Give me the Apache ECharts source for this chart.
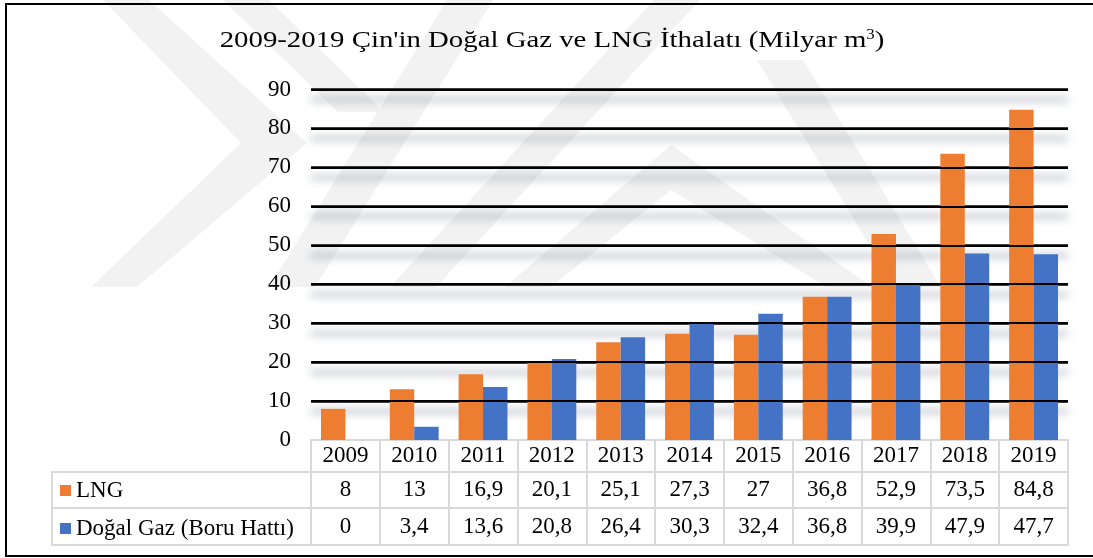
<!DOCTYPE html>
<html>
<head>
<meta charset="utf-8">
<script src="https://cdn.jsdelivr.net/npm/echarts@6/dist/echarts.min.js"></script>
<style>
  html, body { margin: 0; padding: 0; background: #fff; }
  #chart { width: 1093px; height: 558px; }
</style>
</head>
<body>
<div id="chart"></div>
<script>
// data
const years = ["2009", "2010", "2011", "2012", "2013", "2014", "2015", "2016", "2017", "2018", "2019"];
const lng = [8, 13, 16.9, 20.1, 25.1, 27.3, 27, 36.8, 52.9, 73.5, 84.8];
const pipeline = [0, 3.4, 13.6, 20.8, 26.4, 30.3, 32.4, 36.8, 39.9, 47.9, 47.7];
const seriesNames = ["LNG", "Doğal Gaz (Boru Hattı)"];
const titleMain = "2009-2019 Çin'in Doğal Gaz ve LNG İthalatı (Milyar m";

const FONT = "'Liberation Serif', 'Times New Roman', serif";
const GRID_LINE = "#d9d9d9";
const ORANGE = "#ed7d31";
const BLUE = "#4472c4";
const FS = 23;

// turkish decimal comma
function fmt(v) {
	return String(v).replace(".", ",");
}

// table row made from an extra x axis pushed down by offset
function tableAxis(offset, tickLen, margin, values) {
	return {
		type: "category",
		data: years,
		position: "bottom",
		offset: offset,
		axisLine: { show: true, onZero: false, lineStyle: { color: GRID_LINE, width: 2 } },
		axisTick: { show: tickLen > 0, interval: 0, length: tickLen, lineStyle: { color: GRID_LINE, width: 2 } },
		axisLabel: {
			show: !!values,
			interval: 0,
			margin: margin,
			color: "#000",
			fontFamily: FONT,
			fontSize: FS,
			lineHeight: 22,
			formatter: (v, i) => (values ? values[i] : v),
		},
		splitLine: { show: false },
	};
}

const valueAxisBase = {
	type: "value",
	min: 0,
	max: 90,
	interval: 10,
	axisLine: { show: false },
	axisTick: { show: false },
};

// faint watermark stripes in the background
const wm = "#f2f2f2";
const watermark = [
	[[103, 0], [149, 0], [307, 143], [137, 287], [91, 287], [241, 143]],
	[[223, 0], [269, 0], [384, 112], [338, 112]],
	[[447, 0], [493, 0], [315, 287], [269, 287]],
	[[654, 0], [700, 0], [436, 287], [390, 287]],
	[[505, 287], [671, 145], [872, 287], [826, 287], [671, 190], [551, 287]],
	[[757, 60], [803, 60], [941, 287], [895, 287]],
].map((pts) => ({
	type: "polygon",
	z: -10,
	silent: true,
	shape: { points: pts },
	style: { fill: wm },
}));

const chart = echarts.init(document.getElementById("chart"));
chart.setOption({
	animation: false,
	textStyle: { fontFamily: FONT },
	grid: { left: 311, right: 25, top: 89.5, bottom: 118, containLabel: false },
	legend: {
		orient: "vertical",
		left: 60,
		top: 479,
		padding: 0,
		itemWidth: 11,
		itemHeight: 11,
		itemGap: 15,
		icon: "rect",
		selectedMode: false,
		textStyle: { color: "#000", fontFamily: FONT, fontSize: FS, lineHeight: 22 },
		data: seriesNames,
	},
	xAxis: [
		tableAxis(0, 32, 5, years),
		tableAxis(32, 36, 7, lng.map(fmt)),
		tableAxis(68, 37, 8, pipeline.map(fmt)),
		tableAxis(105, 0, 0, null),
	],
	yAxis: [
		Object.assign({}, valueAxisBase, {
			axisLabel: { color: "#000", fontFamily: FONT, fontSize: FS, margin: 20 },
			splitLine: {
				show: true,
				showMinLine: false,
				lineStyle: {
					color: "#000",
					width: 2.5,
					shadowColor: "rgba(105,115,135,0.8)",
					shadowBlur: 9,
					shadowOffsetY: 10,
				},
			},
		}),
		// black lines again above the bars
		Object.assign({}, valueAxisBase, {
			z: 3,
			axisLabel: { show: false },
			splitLine: { show: true, showMinLine: false, lineStyle: { color: "#000", width: 2 } },
		}),
	],
	series: [
		{
			name: seriesNames[0],
			type: "bar",
			data: lng,
			itemStyle: { color: ORANGE },
			barGap: "0%",
			barCategoryGap: "29%",
		},
		{
			name: seriesNames[1],
			type: "bar",
			data: pipeline,
			itemStyle: { color: BLUE },
			barGap: "0%",
			barCategoryGap: "29%",
		},
	],
	graphic: watermark.concat([
		{
			type: "text",
			x: 552,
			y: 41,
			scaleX: 1.2,
			style: {
				text: "{a|" + titleMain + "}{s|3}{a|)}",
				rich: {
					a: { fontFamily: FONT, fontSize: 24, lineHeight: 30, fill: "#000" },
					s: { fontFamily: FONT, fontSize: 14, lineHeight: 30, verticalAlign: "top", fill: "#000", padding: [2, 0, 0, 0] },
				},
				align: "center",
				verticalAlign: "middle",
			},
		},
		// label column of the data table
		{ type: "line", shape: { x1: 52, y1: 472, x2: 311, y2: 472 }, style: { stroke: GRID_LINE, lineWidth: 2 } },
		{ type: "line", shape: { x1: 52, y1: 508, x2: 311, y2: 508 }, style: { stroke: GRID_LINE, lineWidth: 2 } },
		{ type: "line", shape: { x1: 52, y1: 545, x2: 311, y2: 545 }, style: { stroke: GRID_LINE, lineWidth: 2 } },
		{ type: "line", shape: { x1: 52, y1: 471, x2: 52, y2: 546 }, style: { stroke: GRID_LINE, lineWidth: 2 } },
		// outer frame
		{ type: "rect", shape: { x: 6, y: 4, width: 1100, height: 552 }, style: { fill: null, stroke: "#000", lineWidth: 2 } },
	]),
});
</script>
</body>
</html>
